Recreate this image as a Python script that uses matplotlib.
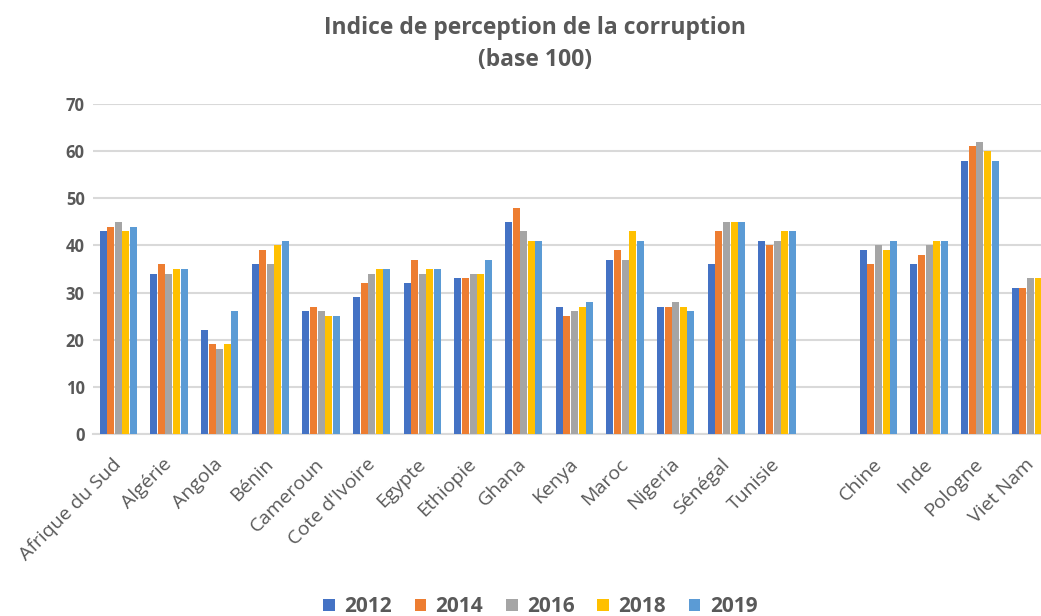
# Indice de perception de la corruption, base 100

import numpy as np
import matplotlib.pyplot as plt
import matplotlib.transforms as mtransforms

pays = ['Afrique du Sud', 'Algérie', 'Angola', 'Bénin', 'Cameroun', "Cote d'Ivoire",
        'Egypte', 'Ethiopie', 'Ghana', 'Kenya', 'Maroc', 'Nigeria', 'Sénégal', 'Tunisie',
        '', 'Chine', 'Inde', 'Pologne', 'Viet Nam']
annees = ['2012', '2014', '2016', '2018', '2019']

nan = np.nan
v2012 = [43, 34, 22, 36, 26, 29, 32, 33, 45, 27, 37, 27, 36, 41, nan, 39, 36, 58, 31]
v2014 = [44, 36, 19, 39, 27, 32, 37, 33, 48, 25, 39, 27, 43, 40, nan, 36, 38, 61, 31]
v2016 = [45, 34, 18, 36, 26, 34, 34, 34, 43, 26, 37, 28, 45, 41, nan, 40, 40, 62, 33]
v2018 = [43, 35, 19, 40, 25, 35, 35, 34, 41, 27, 43, 27, 45, 43, nan, 39, 41, 60, 33]
v2019 = [44, 35, 26, 41, 25, 35, 35, 37, 41, 28, 41, 26, 45, 43, nan, 41, 41, 58, nan]  # Viet Nam 2019 hors cadre

series = [v2012, v2014, v2016, v2018, v2019]
couleurs = ['#4472C4', '#ED7D31', '#A5A5A5', '#FFC000', '#5B9BD5']
gris = '#595959'
police = 'Open Sans'

fig = plt.figure(figsize=(10.41, 6.16), dpi=100)
# the plot runs past the right edge of the picture (last bar is cut)
ax = fig.add_axes([0.0893, 0.2955, 0.925, 0.5357])

x = np.arange(len(pays))
w = 0.15
for i, (vals, c, a) in enumerate(zip(series, couleurs, annees)):
    ax.bar(x + (i - 2) * w, vals, width=w * 0.92, color=c, label=a, zorder=3)

ax.set_xlim(-0.5, len(pays) - 0.5)
ax.set_ylim(0, 70)
ax.set_yticks(range(0, 71, 10))
ax.yaxis.grid(True, color='#D9D9D9', linewidth=1.5, zorder=0)
for s in ['top', 'right', 'left']:
    ax.spines[s].set_visible(False)
ax.spines['bottom'].set_color('#D9D9D9')
ax.spines['bottom'].set_linewidth(1.5)
ax.tick_params(length=0)

# country names drawn by hand so they can sit a bit left/below the tick
ax.set_xticks(x)
ax.set_xticklabels([])
decal = mtransforms.ScaledTranslation(-0.06, -0.21, fig.dpi_scale_trans)
for xi, nom in zip(x, pays):
    ax.text(xi, 0, nom, transform=ax.get_xaxis_transform() + decal, rotation=45,
            ha='right', va='top', rotation_mode='anchor', fontsize=14, color=gris,
            family=police, clip_on=False)

for lab in ax.get_yticklabels():
    lab.set_fontsize(12)
    lab.set_fontweight('bold')
    lab.set_color(gris)
    lab.set_family(police)
ax.tick_params(axis='y', pad=6)

fig.text(0.514, 0.9286, 'Indice de perception de la corruption\n(base 100)', ha='center',
         va='center', fontsize=16.5, fontweight='bold', color=gris, family=police,
         linespacing=1.45)

leg = fig.legend(loc='center', bbox_to_anchor=(0.519, 0.015), ncol=5, frameon=False,
                 handlelength=0.55, handleheight=0.55, columnspacing=1.1, handletextpad=0.45,
                 prop={'family': police, 'weight': 'bold', 'size': 15})
for t in leg.get_texts():
    t.set_color(gris)

plt.savefig('out.png', dpi=100)
